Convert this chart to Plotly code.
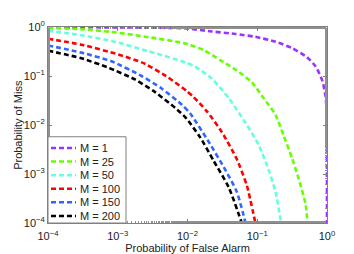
import plotly.graph_objects as go

# (probability of false alarm vs probability of miss)
labels = ["M = 1", "M = 25", "M = 50", "M = 100", "M = 150", "M = 200"]
colors = ["#9933FF", "#66FF00", "#66FFDD", "#FF0000", "#3366FF", "#000000"]

tick_vals = [1e-4, 1e-3, 1e-2, 1e-1, 1]
tick_text = ["10<sup>−4</sup>", "10<sup>−3</sup>", "10<sup>−2</sup>", "10<sup>−1</sup>", "10<sup>0</sup>"]

x_title = "Probability of False Alarm"
y_title = "Probability of Miss"

pf_m1 = [1e-4, 1e-3, 3.2e-3, 8.7e-3, 2.24e-2, 4.9e-2, 9.4e-2, 1.83e-1, 3.16e-1, 5.2e-1, 6.9e-1, 8.6e-1, 9.55e-1, 0.996, 0.998, 0.999, 0.9997]
pm_m1 = [0.99, 0.982, 0.966, 0.944, 0.81, 0.72, 0.63, 0.50, 0.37, 0.24, 0.155, 0.079, 0.038, 0.0158, 0.0032, 0.001, 0.0001]

pf_m25 = [1e-4, 3e-4, 9.1e-4, 2.75e-3, 8.7e-3, 1.7e-2, 2.95e-2, 5.1e-2, 8.4e-2, 1.24e-1, 1.83e-1, 2.4e-1, 3.16e-1, 3.95e-1, 4.94e-1, 5.25e-1]
pm_m25 = [0.955, 0.90, 0.78, 0.62, 0.47, 0.34, 0.21, 0.13, 0.074, 0.035, 0.016, 0.006, 0.0021, 0.00078, 0.00024, 0.0001]

pf_m50 = [1e-4, 3e-4, 9.1e-4, 2.75e-3, 9.3e-3, 1.29e-2, 2.24e-2, 3.9e-2, 6.8e-2, 1.05e-1, 1.46e-1, 1.83e-1, 2.2e-1]
pm_m50 = [0.84, 0.68, 0.50, 0.32, 0.19, 0.155, 0.088, 0.0355, 0.011, 0.0039, 0.0012, 0.00043, 0.0001]

pf_m100 = [1e-4, 3e-4, 1.02e-3, 2.45e-3, 5.3e-3, 9.8e-3, 1.22e-2, 1.9e-2, 3.12e-2, 5.1e-2, 7.1e-2, 9.4e-2]
pm_m100 = [0.575, 0.436, 0.275, 0.178, 0.093, 0.049, 0.0372, 0.019, 0.0071, 0.002, 0.00058, 0.0001]

pf_m150 = [1e-4, 3e-4, 8.1e-4, 2.2e-3, 4.3e-3, 8.3e-3, 1.1e-2, 2.0e-2, 3.5e-2, 5.1e-2, 6.8e-2]
pm_m150 = [0.42, 0.30, 0.20, 0.10, 0.055, 0.026, 0.017, 0.0046, 0.0012, 0.00043, 0.0001]

pf_m200 = [1e-4, 3e-4, 7.3e-4, 1.77e-3, 3.43e-3, 6.65e-3, 9.27e-3, 1.52e-2, 2.37e-2, 3.89e-2, 6.0e-2]
pm_m200 = [0.33, 0.23, 0.148, 0.085, 0.0468, 0.0224, 0.0145, 0.0056, 0.00186, 0.00054, 0.0001]

series_pf = [pf_m1, pf_m25, pf_m50, pf_m100, pf_m150, pf_m200]
series_pm = [pm_m1, pm_m25, pm_m50, pm_m100, pm_m150, pm_m200]

FONT = "Liberation Sans, Arial, Helvetica, sans-serif"
TXT = "#222222"
DASH = "5px,3px"

fig = go.Figure()
for lab, col, xs, ys in zip(labels, colors, series_pf, series_pm):
    fig.add_trace(go.Scatter(
        x=xs, y=ys, mode="lines", name=lab, showlegend=False,
        line=dict(color=col, width=2.6, dash=DASH, shape="spline", smoothing=0.6),
    ))

axis_common = dict(
    type="log", tickmode="array", tickvals=tick_vals, ticktext=tick_text,
    showgrid=False, zeroline=False,
    showline=True, linecolor="#808080", linewidth=1, mirror="allticks",
    ticks="inside", ticklen=4, tickcolor="#808080",
    minor=dict(ticks="inside", ticklen=2, tickcolor="#909090", showgrid=False),
    tickfont=dict(family=FONT, size=11, color=TXT),
)

fig.update_xaxes(range=[-4, 0], ticklabelstandoff=3,
                 title=dict(text=x_title, font=dict(family=FONT, size=11, color=TXT), standoff=1),
                 **axis_common)
fig.update_yaxes(range=[-4, 0], **axis_common)

# Legend box drawn in the lower-left corner of the plot area (paper coordinates)
legend_top = 0.44
legend_right = 0.2796
row_top = 0.383
row_step = 0.0694
shapes = [dict(type="rect", xref="paper", yref="paper", x0=0, x1=legend_right, y0=0, y1=legend_top,
               line=dict(color="#808080", width=1), fillcolor="white", layer="above")]
annotations = []
for i, (lab, col) in enumerate(zip(labels, colors)):
    yy = row_top - i * row_step
    shapes.append(dict(type="line", xref="paper", yref="paper", x0=0.0108, x1=0.1004, y0=yy, y1=yy,
                       line=dict(color=col, width=2.5, dash=DASH), layer="above"))
    annotations.append(dict(xref="paper", yref="paper", x=0.1075, y=yy, text=lab, showarrow=False,
                            xanchor="left", yanchor="middle",
                            font=dict(family=FONT, size=11, color=TXT)))

# y-axis title placed further left, as in the reference
annotations.append(dict(xref="paper", yref="paper", x=-0.108, y=0.5, text=y_title, showarrow=False,
                        textangle=-90, xanchor="center", yanchor="middle",
                        font=dict(family=FONT, size=11, color=TXT)))

fig.update_layout(
    width=354, height=254,
    margin=dict(l=40, r=35, t=11, b=34),
    paper_bgcolor="white", plot_bgcolor="white",
    font=dict(family=FONT, size=11, color=TXT),
    showlegend=False,
    shapes=shapes, annotations=annotations,
)

fig.write_html("out.html")
